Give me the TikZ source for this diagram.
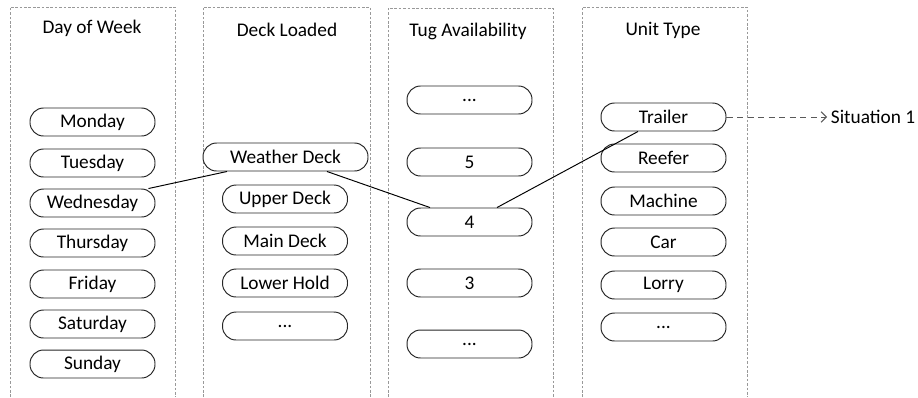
\documentclass[tikz,border=0pt]{standalone}
\usepackage{fontspec}
\setmainfont{Carlito}
\usetikzlibrary{arrows.meta}

\begin{document}
\begin{tikzpicture}[x=0.02cm, y=-0.02cm, >={Straight Barb[length=3pt,width=6pt]},
    font=\fontsize{11}{13}\selectfont,
    opt/.style={rectangle, rounded corners=0.27cm, draw=black!85, line width=0.55pt,
               minimum width=2.5cm, minimum height=0.56cm, inner sep=0pt, fill=white},
    wide/.style={opt, minimum width=3.3cm},
    lane/.style={draw=gray!80, line width=0.55pt, dash pattern=on 1.5pt off 1pt},
    hd/.style={inner sep=1pt}]
  \useasboundingbox (0,0) rectangle (918,397);
  % lanes
  \draw[lane] (10,397) -- (10,7) -- (175,7) -- (175,397);
  \draw[lane] (203,397) -- (203,7) -- (370,7) -- (370,397);
  \draw[lane] (388,397) -- (388,8) -- (553,8) -- (553,397);
  \draw[lane] (582,397) -- (582,7) -- (747,7) -- (747,397);
  % headings
  \node[hd] (hday)  at (92,28)  {Day of Week};
  \node[hd] (hdeck) at (287,30) {Deck Loaded};
  \node[hd] (htug)  at (468,31) {Tug Availability};
  \node[hd] (hunit) at (663,30) {Unit Type};
  % day of week
  \node[opt] (mon) at (92.5,122) {Monday};
  \node[opt] (tue) at (92.5,163) {Tuesday};
  \node[opt] (wed) at (92.5,203) {Wednesday};
  \node[opt] (thu) at (92.5,243) {Thursday};
  \node[opt] (fri) at (92.5,284) {Friday};
  \node[opt] (sat) at (92.5,324) {Saturday};
  \node[opt] (sun) at (92.5,364) {Sunday};
  % deck loaded
  \node[wide] (wd)    at (285.5,157) {Weather Deck};
  \node[opt]  (upd)   at (285,199)   {Upper Deck};
  \node[opt]  (mnd)   at (285,241)   {Main Deck};
  \node[opt]  (lwh)   at (285,283)   {Lower Hold};
  \node[opt]  (dkmore) at (285,326)  {...};
  % tug availability
  \node[opt] (tgtop) at (469.5,100) {...};
  \node[opt] (five)  at (469.5,162) {5};
  \node[opt] (four)  at (469.5,222) {4};
  \node[opt] (three) at (469.5,283) {3};
  \node[opt] (tgbot) at (469.5,344) {...};
  % unit type
  \node[opt] (trl)   at (663.5,117) {Trailer};
  \node[opt] (rfr)   at (663.5,158) {Reefer};
  \node[opt] (mch)   at (663.5,201) {Machine};
  \node[opt] (car)   at (663.5,242) {Car};
  \node[opt] (lry)   at (663.5,285) {Lorry};
  \node[opt] (utmore) at (663.5,327) {...};
  % result
  \node[anchor=west, inner sep=2pt] (sit) at (827,117) {Situation 1};

  \draw[line width=0.55pt] ([xshift=-0.14cm]wed.north east) -- ([xshift=-1.17cm]wd.south);
  \draw[line width=0.55pt] ([xshift=0.83cm]wd.south) -- ([xshift=-0.79cm]four.north);
  \draw[line width=0.55pt] ([xshift=0.55cm]four.north) -- ([xshift=-0.51cm]trl.south);
  \draw[->, draw=black!65, line width=0.55pt, dash pattern=on 3.5pt off 2.5pt] (trl) -- (sit);
\end{tikzpicture}
\end{document}
